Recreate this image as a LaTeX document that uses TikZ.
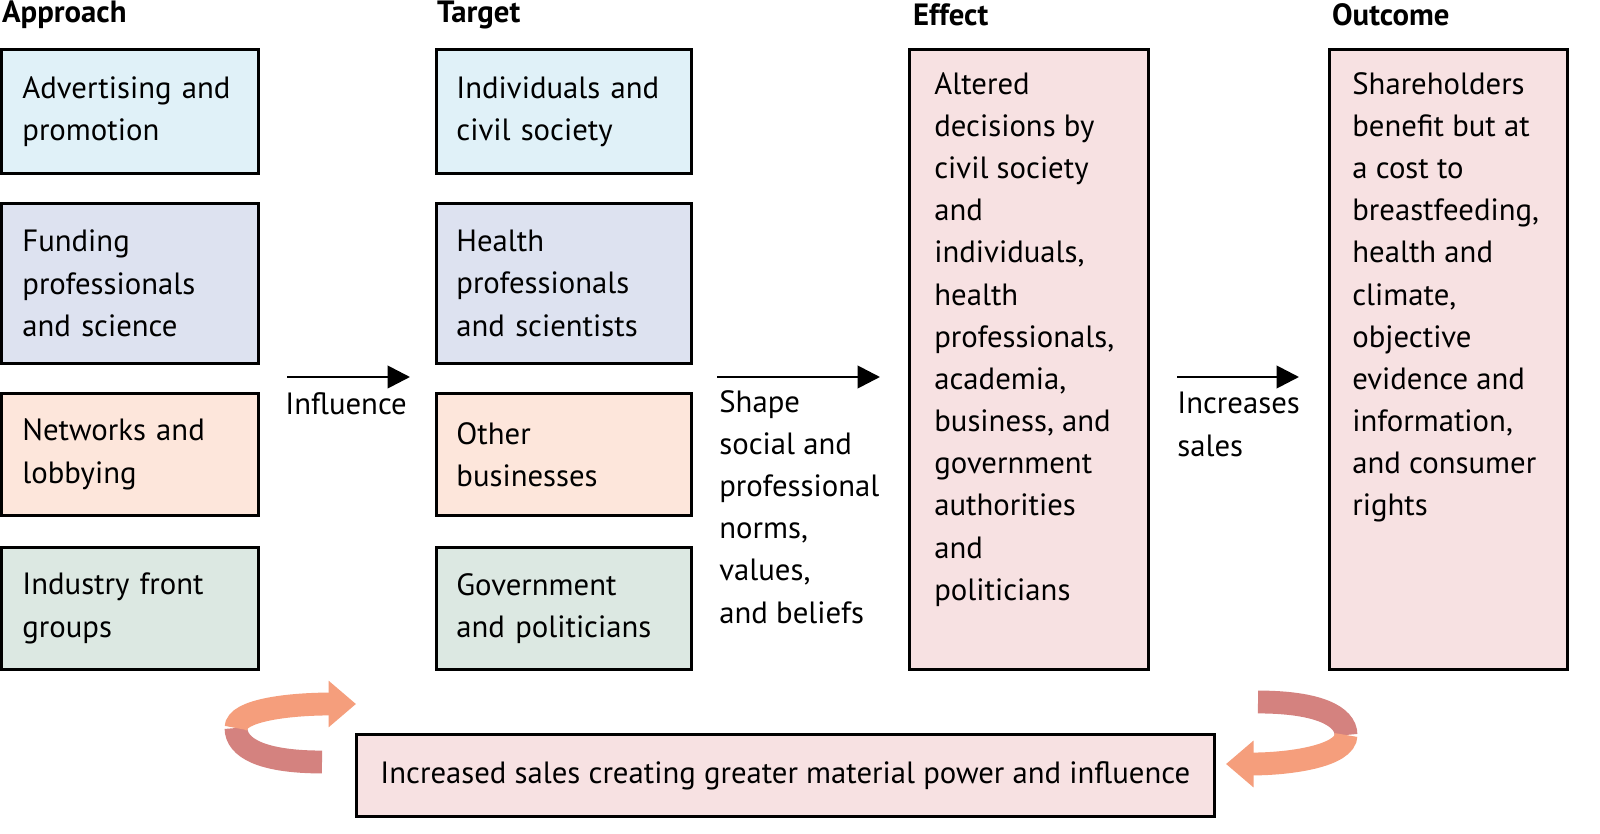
\documentclass[tikz,border=0pt]{standalone}
\usepackage{fontspec}
\setmainfont{PT Sans}
\usetikzlibrary{positioning,arrows.meta}
\definecolor{cblue}{HTML}{E0F1F8}
\definecolor{clav}{HTML}{DDE2F0}
\definecolor{cpeach}{HTML}{FDE6DB}
\definecolor{cgreen}{HTML}{DCE8E2}
\definecolor{cpink}{HTML}{F7E1E2}
\definecolor{crose}{HTML}{D4827F}
\definecolor{corange}{HTML}{F59E7C}
\tikzset{
	box/.style = {shape=rectangle, draw, line width=1.6pt, anchor=north west,
		align=left, font=\fontsize{17.5}{24}\selectfont, inner xsep=0.4cm},
	head/.style = {anchor=west, inner xsep=1pt, font=\fontsize{17.5}{20}\selectfont\bfseries},
	lbl/.style = {anchor=north west, align=left, inner sep=0pt,
		font=\fontsize{17.5}{24}\selectfont},
	flow/.style = {-{Triangle[length=0.45cm,width=0.45cm]}, line width=1.6pt}
}
\begin{document}
\begin{tikzpicture}[x=0.02cm,y=-0.02cm]
\fill [white] (0,0) rectangle (1600,834);
\useasboundingbox (0,0) rectangle (1600,834);
% headers
\node [head] (hA) at (0,15) {Approach};
\node [head] (hT) at (435,15) {Target};
\node [head] (hE) at (911,15) {Effect};
\node [head] (hO) at (1330,15) {Outcome};
% approach column
\node [box, fill=cblue, minimum width=5.14cm, minimum height=2.48cm, text width=4.3cm] (a1) at (0,48) {Advertising and\\promotion};
\node [box, fill=clav, minimum width=5.14cm, minimum height=3.2cm, text width=4.3cm] (a2) at (0,202) {Funding\\professionals\\and science};
\node [box, fill=cpeach, minimum width=5.14cm, minimum height=2.44cm, text width=4.3cm] (a3) at (0,392) {Networks and\\lobbying};
\node [box, fill=cgreen, minimum width=5.14cm, minimum height=2.44cm, text width=4.3cm] (a4) at (0,546) {Industry front\\groups};
% target column
\node [box, fill=cblue, minimum width=5.1cm, minimum height=2.48cm, text width=4.3cm] (t1) at (435,48) {Individuals and\\civil society};
\node [box, fill=clav, minimum width=5.1cm, minimum height=3.2cm, text width=4.3cm] (t2) at (435,202) {Health\\professionals\\and scientists};
\node [box, fill=cpeach, minimum width=5.1cm, minimum height=2.44cm, text width=4.3cm] (t3) at (435,392) {Other\\businesses};
\node [box, fill=cgreen, minimum width=5.1cm, minimum height=2.44cm, text width=4.3cm] (t4) at (435,546) {Government\\and politicians};
% effect and outcome
\node [box, fill=cpink, minimum width=4.78cm, minimum height=12.4cm] (eff) at (908,48) {};
\node [lbl] (efftxt) at (934,72) {Altered\\decisions by\\civil society\\and\\individuals,\\health\\professionals,\\academia,\\business, and\\government\\authorities\\and\\politicians};
\node [box, fill=cpink, minimum width=4.76cm, minimum height=12.4cm] (out) at (1328,48) {};
\node [lbl] (outtxt) at (1352,72) {Shareholders\\benefit but at\\a cost to\\breastfeeding,\\health and\\climate,\\objective\\evidence and\\information,\\and consumer\\rights};
% flow arrows
\coordinate (i1) at (287,377); \coordinate (i2) at (410,377);
\draw [flow] (i1) -- (i2);
\node [lbl] (infl) at (285,392) {Influence};
\coordinate (s1) at (717,377); \coordinate (s2) at (880,377);
\draw [flow] (s1) -- (s2);
\node [lbl] (shape) at (719,390) {Shape\\social and\\professional\\norms,\\values,\\and beliefs};
\coordinate (c1) at (1177,377); \coordinate (c2) at (1299,377);
\draw [flow] (c1) -- (c2);
\node [lbl] (incr) at (1177,392) {Increases\\sales};
% bottom box
\node [box, fill=cpink, minimum width=17.16cm, minimum height=1.64cm, align=center] (loop) at (355,733) {Increased sales creating greater material power and influence};
% curved ribbons
\coordinate (l0) at (322,762); \coordinate (l1) at (236,728); \coordinate (l2) at (356,704);
\draw [crose, line width=13pt] (l0) .. controls (262,762) and (236,748) .. (l1);
\draw [corange, line width=13pt, -{Triangle[length=0.55cm,width=0.9cm]}] (l1) .. controls (236,710) and (290,704) .. (l2);
\coordinate (r0) at (1258,702); \coordinate (r1) at (1346,735); \coordinate (r2) at (1226,764);
\draw [crose, line width=13pt] (r0) .. controls (1318,702) and (1346,716) .. (r1);
\draw [corange, line width=13pt, -{Triangle[length=0.55cm,width=0.9cm]}] (r1) .. controls (1346,756) and (1290,764) .. (r2);
\end{tikzpicture}
\end{document}
